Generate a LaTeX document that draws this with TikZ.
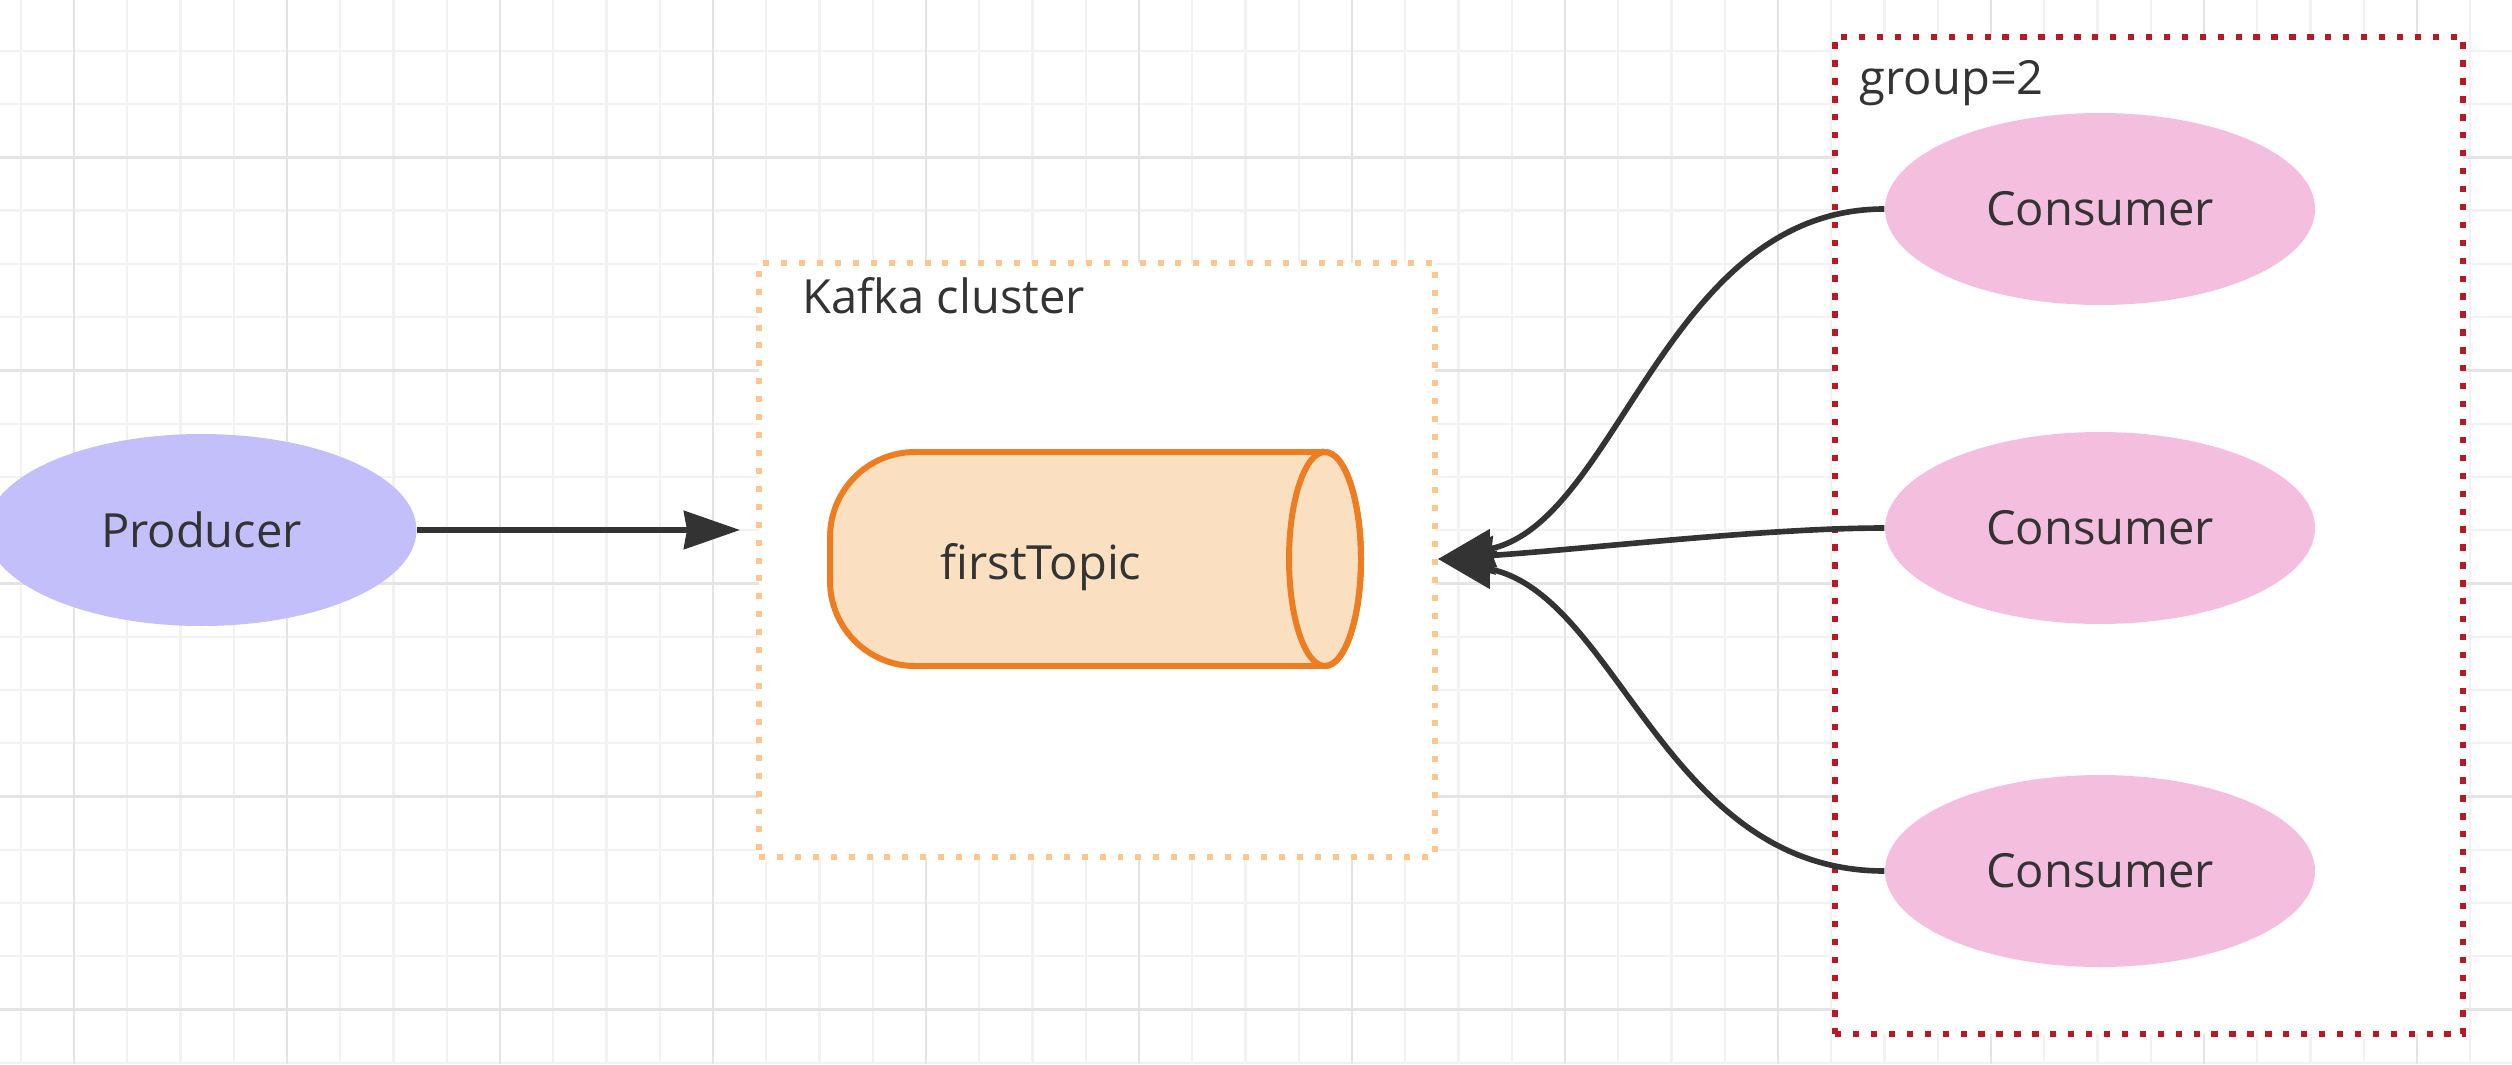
\documentclass[tikz,border=0pt]{standalone}
\usepackage{fontspec}
\setmainfont{Open Sans}
\usepackage{tikz}
\usetikzlibrary{calc,shapes.geometric,arrows.meta}
\usepackage{color}
\definecolor{txt}{HTML}{333333}
\definecolor{prodfill}{RGB}{195,191,250}
\definecolor{consfill}{RGB}{244,191,223}
\definecolor{topicfill}{RGB}{250,223,192}
\definecolor{topicline}{RGB}{238,125,34}
\definecolor{clusterline}{RGB}{253,198,142}
\definecolor{groupline}{RGB}{185,25,38}
\definecolor{gridminor}{RGB}{242,242,242}
\definecolor{gridmajor}{RGB}{228,228,228}

\begin{document}
\begin{tikzpicture}[
    font=\fontsize{13.4}{16}\selectfont, text=txt,
    member/.style={ellipse, minimum width=4.3cm, minimum height=1.92cm, inner sep=0pt},
    producer/.style={member, fill=prodfill},
    consumer/.style={member, fill=consfill},
    boxframe/.style={rectangle, fill=white, inner sep=0pt, line width=1.7pt, dash pattern=on 1.7pt off 3.4pt},
    boxtitle/.style={inner sep=0pt, anchor=base west},
    flow/.style={draw=txt, line width=1.6pt, -{Stealth[length=5.6mm,width=3.8mm,inset=0.3mm]}}]
        \fill[white] (0,0) rectangle (25.12,10.64);
        \clip (0,0) rectangle (25.12,10.64);
        % grid in the background
        \begin{scope}[shift={(0.74,0.547)}]
          \draw[step=0.5325cm,gridminor,line width=0.6pt] (-0.74,-0.547) grid (24.38,10.093);
          \draw[step=2.13cm,gridmajor,line width=0.7pt] (-0.74,-0.547) grid (24.38,10.093);
        \end{scope}
        \node[producer] (prod) at (2.015,5.34) {Producer};
        \node[boxframe,draw=clusterline,minimum width=6.76cm,minimum height=5.94cm] (cluster) at (10.97,5.04) {};
        \node[boxtitle] (clustertitle) at (8.02,7.51) {Kafka cluster};
        % the topic cylinder
        \filldraw[fill=topicfill,draw=topicline,line width=1.7pt]
          (13.25,6.12) -- (9.15,6.12) arc[start angle=90,end angle=180,radius=0.85]
          -- (8.30,4.83) arc[start angle=180,end angle=270,radius=0.85]
          -- (13.25,3.98) arc[start angle=-90,end angle=90,x radius=0.36,y radius=1.07] -- cycle;
        \draw[topicline,line width=1.7pt] (13.25,5.05) ellipse[x radius=0.36,y radius=1.07];
        \node[boxtitle] (topic) at (9.40,4.85) {firstTopic};
        \node[boxframe,draw=groupline,line width=1.8pt,dash pattern=on 1.8pt off 3.3pt,minimum width=6.28cm,minimum height=9.97cm] (group) at (21.49,5.285) {};
        \node[boxtitle] (grouptitle) at (18.59,9.69) {group=2};
        \node[consumer] (cons1) at (21.00,8.55) {Consumer};
        \node[consumer] (cons2) at (21.00,5.36) {Consumer};
        \node[consumer] (cons3) at (21.00,1.93) {Consumer};
        \coordinate (prodin) at (7.40,5.34);
        \coordinate (consout) at (14.38,5.05);
        \draw[flow] (prod) -- (prodin);
        \draw[flow] (cons1.west) .. controls +(-2.2,0) and +(1.8,0.35) .. (consout);
        \draw[flow] (cons2.west) .. controls +(-1.2,0) and +(1.5,0.1) .. (consout);
        \draw[flow] (cons3.west) .. controls +(-2.2,0) and +(1.8,-0.35) .. (consout);
\end{tikzpicture}
\end{document}
